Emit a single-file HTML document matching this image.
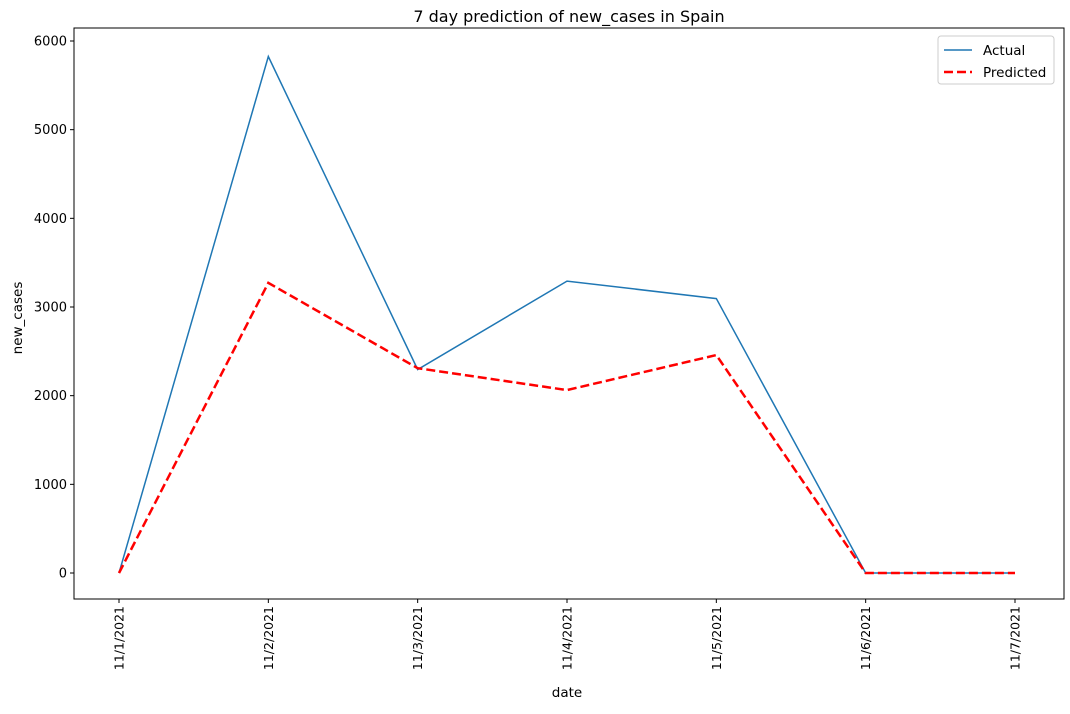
<!DOCTYPE html>
<html><head><meta charset="utf-8"><style>
body{margin:0;background:#fff;font-family:"Liberation Sans","DejaVu Sans",sans-serif;}
svg text{font-family:"DejaVu Sans","Liberation Sans",sans-serif;}
</style></head><body>
<svg id="chart" width="1070" height="709" xmlns="http://www.w3.org/2000/svg"></svg>
<script>
const categories=["11/1/2021","11/2/2021","11/3/2021","11/4/2021","11/5/2021","11/6/2021","11/7/2021"];
const actual=[0,5825,2295,3292,3095,0,0];
const predicted=[0,3272,2310,2063,2458,0,0];
const yTicks=[0,1000,2000,3000,4000,5000,6000];
const svg=document.getElementById('chart');
const NS='http://www.w3.org/2000/svg';
const L=74,R=1064,T=28,B=599;
const x0=119,dx=(1015-119)/6;
function xs(i){return x0+i*dx;}
function ys(v){return 573-v*(573-41)/6000;}
function el(t,a,txt){const e=document.createElementNS(NS,t);for(const k in a)e.setAttribute(k,a[k]);if(txt!==undefined)e.textContent=txt;svg.appendChild(e);return e;}
let e;
e=el('rect',{x:L,y:T,width:R-L,height:B-T,fill:'none',stroke:'#000','stroke-width':1});


yTicks.forEach(v=>{
 const y=ys(v);
 el('line',{x1:L-4,x2:L,y1:y,y2:y,stroke:'#000'});
 const t=el('text',{x:L-7,y:y+4.5,'text-anchor':'end','font-size':13},String(v));
 
 
});
categories.forEach((c,i)=>{
 const x=xs(i);
 el('line',{x1:x,x2:x,y1:B,y2:B+4,stroke:'#000'});
 const t=el('text',{x:0,y:0,'text-anchor':'end','font-size':12.5,transform:`translate(${x+4.5},${B+7}) rotate(-90)`},c);
 
 
});
function line(d,attrs,name){
 const p=el('polyline',Object.assign({points:d.map((v,i)=>xs(i)+','+ys(v)).join(' '),fill:'none'},attrs));
 
 
}
line(actual,{stroke:'#1f77b4','stroke-width':1.5},'actual-line');
line(predicted,{stroke:'#ff0000','stroke-width':2.5,'stroke-dasharray':'9,4'},'predicted-line');
e=el('text',{x:(L+R)/2,y:22,'text-anchor':'middle','font-size':16},'7 day prediction of new_cases in Spain');


e=el('text',{x:567,y:697,'text-anchor':'middle','font-size':13.5},'date');


e=el('text',{x:0,y:0,'text-anchor':'middle','font-size':13.5,transform:'translate(22,318) rotate(-90)'},'new_cases');


e=el('rect',{x:938,y:36,width:116,height:48,rx:3,fill:'#fff',stroke:'#ccc'});


el('line',{x1:944,x2:972,y1:50,y2:50,stroke:'#1f77b4','stroke-width':1.5});
e=el('text',{x:983,y:55,'font-size':13.5},'Actual');


el('line',{x1:944,x2:972,y1:72,y2:72,stroke:'#ff0000','stroke-width':2.5,'stroke-dasharray':'9,4'});
e=el('text',{x:983,y:77,'font-size':13.5},'Predicted');


</script>
</body></html>
